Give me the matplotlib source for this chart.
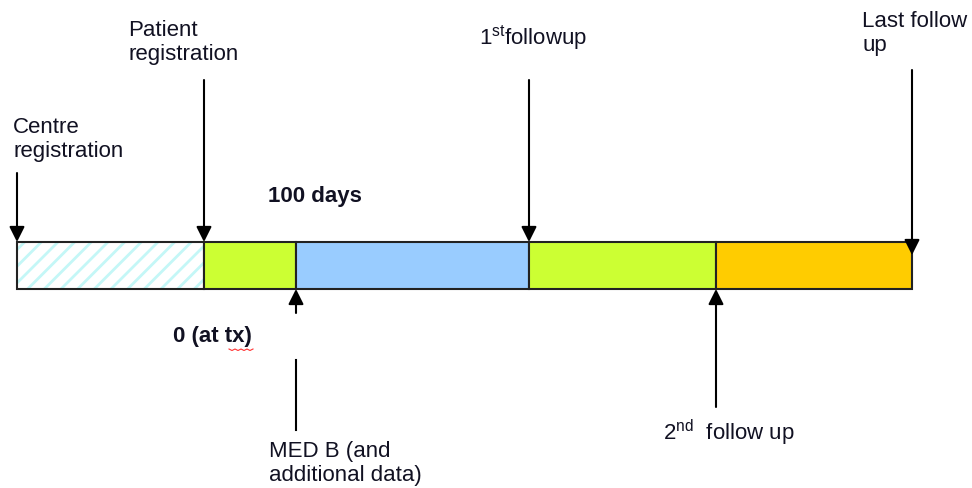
import numpy as np
import matplotlib.pyplot as plt
from matplotlib.patches import Rectangle

plt.rcParams['font.family'] = ['Liberation Sans', 'DejaVu Sans']
plt.rcParams['mathtext.fontset'] = 'custom'
plt.rcParams['mathtext.rm'] = 'Liberation Sans'
plt.rcParams['mathtext.bf'] = 'Liberation Sans:bold'
plt.rcParams['hatch.linewidth'] = 2.0

# timeline segments along the bar (pixel-like units)
seg_start = [17, 204, 296, 529, 716]
seg_end = [204, 296, 529, 716, 912]
seg_color = ['white', '#ccff33', '#99ccff', '#ccff33', '#ffcc00']
seg_hatch = ['//', None, None, None, None]
bar_top, bar_bottom = 242, 289

# milestones above the bar (arrow points down)
up_x = [17, 204, 529, 912]
up_tail = [173, 80, 80, 70]
up_tip = [242, 242, 242, 255]
up_label = ['Centre\nregistration', 'Patient\nregistration',
            '1$^{\\mathrm{st}}$followup', 'Last follow\nup']
up_label_x = [13, 128, 479, 862]
up_label_y = [117, 20, 23, 11]

# milestones below the bar (arrow points up)
down_x = [296, 716]
down_tail = [313, 407]
down_label = ['MED B (and\nadditional data)', '2$^{\\mathrm{nd}}$  follow up']
down_label_x = [269, 663]
down_label_y = [441, 418]

fig = plt.figure(figsize=(9.72, 4.88), dpi=100)
ax = fig.add_axes([0, 0, 1, 1])
ax.set_xlim(0, 972)
ax.set_ylim(488, 0)
ax.axis('off')

fs = 16
txt = '#111122'
arrow_kw = dict(arrowstyle='-|>', mutation_scale=23, lw=1.5, color='black',
                shrinkA=0, shrinkB=0)

# bar segments
for x0, x1, c, h in zip(seg_start, seg_end, seg_color, seg_hatch):
    if h:
        ax.add_patch(Rectangle((x0, bar_top), x1 - x0, bar_bottom - bar_top,
                               facecolor='white', edgecolor='#c4f7f7',
                               hatch=h, lw=0))
        ax.add_patch(Rectangle((x0, bar_top), x1 - x0, bar_bottom - bar_top,
                               facecolor='none', edgecolor='#222222', lw=1.5))
    else:
        ax.add_patch(Rectangle((x0, bar_top), x1 - x0, bar_bottom - bar_top,
                               facecolor=c, edgecolor='#222222', lw=1.5))

# arrows from above
for x, t0, t1, lab, lx, ly in zip(up_x, up_tail, up_tip, up_label,
                                   up_label_x, up_label_y):
    ax.annotate('', xy=(x, t1), xytext=(x, t0), arrowprops=arrow_kw)
    ax.text(lx, ly, lab, fontsize=fs, color=txt, ha='left', va='top')

# arrows from below
for x, t0, lab, lx, ly in zip(down_x, down_tail, down_label,
                               down_label_x, down_label_y):
    ax.annotate('', xy=(x, bar_bottom), xytext=(x, t0), arrowprops=arrow_kw)
    ax.text(lx, ly, lab, fontsize=fs, color=txt, ha='left', va='top')

# MED B shaft continues below the "0 (at tx)" label
ax.plot([296, 296], [360, 430], color='black', lw=1.5)

# bold annotations
ax.text(268, 186, '100 days', fontsize=fs, fontweight='bold', color=txt,
        ha='left', va='top')
ax.text(173, 326, '0 (at tx)', fontsize=fs, fontweight='bold', color=txt,
        ha='left', va='top')

# spell-check squiggle under "tx"
sx = np.arange(229, 254, 3)
sy = 349 + 1.5 * (np.arange(len(sx)) % 2)
ax.plot(sx, sy, color='#ff3333', lw=0.8)

fig.savefig('out.png', dpi=100)
